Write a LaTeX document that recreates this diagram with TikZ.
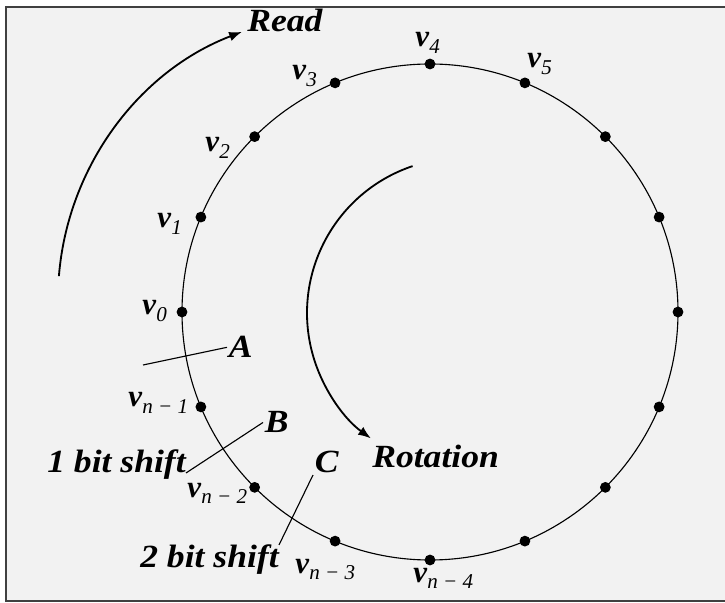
\documentclass[tikz,border=0pt]{standalone}
\usepackage{fontspec}
\setmainfont{Liberation Serif}
\usepackage{xcolor}
\usetikzlibrary{arrows.meta,positioning,calc}
\definecolor{panel}{HTML}{F2F2F2}
\newcommand{\vlab}[1]{\textbf{\textit{v}}\raisebox{-0.45ex}{\fontsize{15}{15}\selectfont\itshape #1}}

\begin{document}
\begin{tikzpicture}[
  x=0.025cm, y=0.025cm,
  big/.style={font=\fontsize{23}{26}\selectfont\bfseries\itshape, inner sep=0pt, anchor=base west, xscale=1.1, transform shape},
  vname/.style={font=\fontsize{22}{24}\selectfont, inner sep=0pt, anchor=base west},
  dot/.style={circle, fill=black, inner sep=0pt, minimum size=0.27cm},
  arrow/.style={-{Latex[length=3.2mm,width=2.4mm]}, line width=1.3pt},
  pointer/.style={line width=0.8pt}
]
\useasboundingbox (0,0) rectangle (725,-603);
\fill[panel] (6,-7) rectangle (725,-601);
\draw[line width=1.6pt, black!75] (725,-7) -- (6,-7) -- (6,-601) -- (725,-601);

% ring of cells, v0 on the left, clockwise
\coordinate (O) at (430,-312);
\draw[line width=0.8pt] (O) circle[radius=248];
\foreach \k in {0,...,15} {
  \node[dot] (v\k) at ($(O)+(180-\k*22.5:248)$) {};
}

% cell names
\node[vname] (n0) at (142,-315) {\vlab{0}};
\node[vname] (n1) at (157,-228) {\vlab{1}};
\node[vname] (n2) at (205,-152) {\vlab{2}};
\node[vname] (n3) at (292,-80) {\vlab{3}};
\node[vname] (n4) at (415,-47) {\vlab{4}};
\node[vname] (n5) at (527,-68) {\vlab{5}};
\node[vname] (n15) at (128,-407) {\vlab{n − 1}};
\node[vname] (n14) at (187,-497) {\vlab{n − 2}};
\node[vname] (n13) at (295,-573) {\vlab{n − 3}};
\node[vname] (n12) at (413,-582) {\vlab{n − 4}};

% read and rotation directions
\node[big] (read) at (247,-32) {Read};
\node[big] (rot) at (372,-468) {Rotation};
\coordinate (readtail) at (58.9,-276.1);
\draw[arrow] (readtail) arc[start angle=175.4, end angle=110.9, radius=286];
\coordinate (rottail) at (412.6,-166.1);
\draw[arrow] (rottail) arc[start angle=108.6, end angle=234, radius=155];

% cut positions
\node[big, inner sep=1pt] (A) at (227,-358) {A};
\node[big, inner sep=1pt] (B) at (263,-433) {B};
\node[big, inner sep=1pt] (C) at (313,-473) {C};
\node[big] (shift1) at (47,-473) {1 bit shift};
\node[big] (shift2) at (140,-568) {2 bit shift};
\coordinate (atail) at (143,-365);
\draw[pointer] (atail) -- (A.west);
\draw[pointer] (shift1.base east) -- (B.west);
\draw[pointer] (shift2.north east) -- (C.south west);
\end{tikzpicture}
\end{document}
